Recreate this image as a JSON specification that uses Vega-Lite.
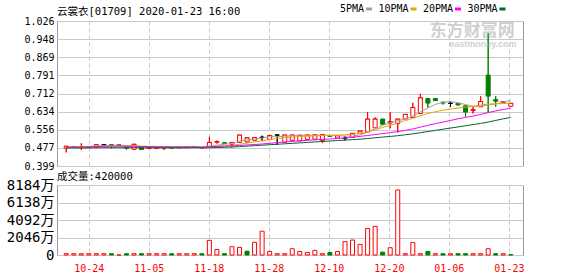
{
  "$schema": "https://vega.github.io/schema/vega-lite/v6.json",
  "padding": {"left": 0, "top": 4, "right": 0, "bottom": 0},
  "spacing": -1,
  "config": {
    "font": "DejaVu Sans Mono, Noto Sans CJK SC, sans-serif",
    "view": {"stroke": "#999999", "strokeWidth": 1},
    "axis": {"labelFont": "DejaVu Sans Mono, Noto Sans CJK SC, sans-serif", "labelFontSize": 10, "labelColor": "#000000", "gridColor": "#c8c8c8", "gridWidth": 1, "gridOpacity": 1, "ticks": false, "domain": false, "title": null, "labelOverlap": false, "labelFlush": false},
    "axisY": {"labelOverlap": false},
    "legend": {"labelFont": "DejaVu Sans Mono, Noto Sans CJK SC, sans-serif"},
    "title": {"font": "DejaVu Sans Mono, Noto Sans CJK SC, sans-serif", "fontSize": 10.5, "fontWeight": "normal", "anchor": "start", "frame": "group", "color": "#000000"}
  },
  "datasets": {
    "k": [
      {"i":0,"o":0.476,"h":0.484,"l":0.458,"c":0.484,"v":150,"vd":"up","5PMA":0.480,"10PMA":0.479,"20PMA":0.481,"30PMA":0.477},
      {"i":1,"o":0.481,"h":0.483,"l":0.481,"c":0.483,"v":150,"vd":"up","5PMA":0.481,"10PMA":0.480,"20PMA":0.481,"30PMA":0.477},
      {"i":2,"o":0.480,"h":0.497,"l":0.468,"c":0.482,"v":150,"vd":"up","5PMA":0.482,"10PMA":0.481,"20PMA":0.481,"30PMA":0.477},
      {"i":3,"o":0.480,"h":0.482,"l":0.480,"c":0.482,"v":150,"vd":"up","5PMA":0.483,"10PMA":0.482,"20PMA":0.482,"30PMA":0.477},
      {"i":4,"o":0.481,"h":0.491,"l":0.476,"c":0.491,"v":150,"vd":"up","5PMA":0.486,"10PMA":0.483,"20PMA":0.483,"30PMA":0.478},
      {"i":5,"o":0.491,"h":0.492,"l":0.491,"c":0.491,"v":150,"vd":"up","5PMA":0.487,"10PMA":0.484,"20PMA":0.484,"30PMA":0.478},
      {"i":6,"o":0.491,"h":0.491,"l":0.475,"c":0.489,"v":150,"vd":"down","5PMA":0.488,"10PMA":0.485,"20PMA":0.485,"30PMA":0.478},
      {"i":7,"o":0.489,"h":0.489,"l":0.489,"c":0.489,"v":0,"vd":"up","5PMA":0.489,"10PMA":0.485,"20PMA":0.485,"30PMA":0.478},
      {"i":8,"o":0.480,"h":0.480,"l":0.468,"c":0.477,"v":150,"vd":"down","5PMA":0.487,"10PMA":0.485,"20PMA":0.484,"30PMA":0.478},
      {"i":9,"o":0.471,"h":0.493,"l":0.471,"c":0.493,"v":150,"vd":"up","5PMA":0.486,"10PMA":0.485,"20PMA":0.484,"30PMA":0.478},
      {"i":10,"o":0.481,"h":0.481,"l":0.470,"c":0.471,"v":150,"vd":"down","5PMA":0.483,"10PMA":0.485,"20PMA":0.483,"30PMA":0.478},
      {"i":11,"o":0.475,"h":0.477,"l":0.475,"c":0.477,"v":150,"vd":"up","5PMA":0.481,"10PMA":0.484,"20PMA":0.483,"30PMA":0.478},
      {"i":12,"o":0.475,"h":0.477,"l":0.475,"c":0.477,"v":150,"vd":"up","5PMA":0.479,"10PMA":0.484,"20PMA":0.482,"30PMA":0.478},
      {"i":13,"o":0.476,"h":0.479,"l":0.468,"c":0.479,"v":150,"vd":"up","5PMA":0.479,"10PMA":0.483,"20PMA":0.482,"30PMA":0.478},
      {"i":14,"o":0.478,"h":0.478,"l":0.476,"c":0.476,"v":150,"vd":"down","5PMA":0.478,"10PMA":0.482,"20PMA":0.482,"30PMA":0.478},
      {"i":15,"o":0.477,"h":0.479,"l":0.477,"c":0.479,"v":150,"vd":"up","5PMA":0.478,"10PMA":0.481,"20PMA":0.482,"30PMA":0.478},
      {"i":16,"o":0.478,"h":0.480,"l":0.478,"c":0.480,"v":150,"vd":"up","5PMA":0.479,"10PMA":0.481,"20PMA":0.482,"30PMA":0.478},
      {"i":17,"o":0.479,"h":0.481,"l":0.479,"c":0.481,"v":150,"vd":"up","5PMA":0.480,"10PMA":0.480,"20PMA":0.482,"30PMA":0.478},
      {"i":18,"o":0.477,"h":0.479,"l":0.477,"c":0.478,"v":150,"vd":"down","5PMA":0.479,"10PMA":0.480,"20PMA":0.481,"30PMA":0.478},
      {"i":19,"o":0.484,"h":0.525,"l":0.484,"c":0.501,"v":1717,"vd":"up","5PMA":0.484,"10PMA":0.482,"20PMA":0.483,"30PMA":0.478},
      {"i":20,"o":0.502,"h":0.509,"l":0.496,"c":0.504,"v":651,"vd":"up","5PMA":0.489,"10PMA":0.484,"20PMA":0.484,"30PMA":0.479},
      {"i":21,"o":0.500,"h":0.500,"l":0.497,"c":0.498,"v":150,"vd":"down","5PMA":0.493,"10PMA":0.486,"20PMA":0.485,"30PMA":0.480},
      {"i":22,"o":0.493,"h":0.501,"l":0.480,"c":0.501,"v":971,"vd":"up","5PMA":0.497,"10PMA":0.488,"20PMA":0.486,"30PMA":0.481},
      {"i":23,"o":0.501,"h":0.533,"l":0.501,"c":0.533,"v":888,"vd":"up","5PMA":0.507,"10PMA":0.493,"20PMA":0.488,"30PMA":0.483},
      {"i":24,"o":0.503,"h":0.523,"l":0.500,"c":0.521,"v":450,"vd":"down","5PMA":0.511,"10PMA":0.498,"20PMA":0.490,"30PMA":0.485},
      {"i":25,"o":0.510,"h":0.522,"l":0.510,"c":0.522,"v":1480,"vd":"up","5PMA":0.515,"10PMA":0.503,"20PMA":0.492,"30PMA":0.487},
      {"i":26,"o":0.523,"h":0.530,"l":0.507,"c":0.523,"v":2782,"vd":"up","5PMA":0.520,"10PMA":0.508,"20PMA":0.494,"30PMA":0.489},
      {"i":27,"o":0.514,"h":0.531,"l":0.514,"c":0.531,"v":414,"vd":"up","5PMA":0.526,"10PMA":0.513,"20PMA":0.497,"30PMA":0.491},
      {"i":28,"o":0.533,"h":0.534,"l":0.490,"c":0.533,"v":150,"vd":"up","5PMA":0.526,"10PMA":0.518,"20PMA":0.500,"30PMA":0.493},
      {"i":29,"o":0.501,"h":0.533,"l":0.501,"c":0.533,"v":150,"vd":"up","5PMA":0.528,"10PMA":0.522,"20PMA":0.503,"30PMA":0.495},
      {"i":30,"o":0.510,"h":0.533,"l":0.510,"c":0.533,"v":734,"vd":"up","5PMA":0.530,"10PMA":0.524,"20PMA":0.505,"30PMA":0.497},
      {"i":31,"o":0.507,"h":0.532,"l":0.507,"c":0.532,"v":414,"vd":"up","5PMA":0.532,"10PMA":0.527,"20PMA":0.508,"30PMA":0.499},
      {"i":32,"o":0.514,"h":0.533,"l":0.514,"c":0.533,"v":296,"vd":"up","5PMA":0.532,"10PMA":0.528,"20PMA":0.510,"30PMA":0.501},
      {"i":33,"o":0.515,"h":0.534,"l":0.512,"c":0.534,"v":533,"vd":"up","5PMA":0.532,"10PMA":0.530,"20PMA":0.512,"30PMA":0.503},
      {"i":34,"o":0.509,"h":0.535,"l":0.498,"c":0.535,"v":150,"vd":"up","5PMA":0.532,"10PMA":0.531,"20PMA":0.514,"30PMA":0.505},
      {"i":35,"o":0.530,"h":0.532,"l":0.525,"c":0.528,"v":296,"vd":"down","5PMA":0.531,"10PMA":0.532,"20PMA":0.516,"30PMA":0.507},
      {"i":36,"o":0.520,"h":0.531,"l":0.520,"c":0.530,"v":414,"vd":"up","5PMA":0.530,"10PMA":0.533,"20PMA":0.518,"30PMA":0.509},
      {"i":37,"o":0.519,"h":0.528,"l":0.510,"c":0.519,"v":1563,"vd":"up","5PMA":0.528,"10PMA":0.534,"20PMA":0.520,"30PMA":0.511},
      {"i":38,"o":0.523,"h":0.540,"l":0.523,"c":0.540,"v":1752,"vd":"up","5PMA":0.528,"10PMA":0.536,"20PMA":0.523,"30PMA":0.513},
      {"i":39,"o":0.540,"h":0.550,"l":0.538,"c":0.550,"v":1243,"vd":"up","5PMA":0.533,"10PMA":0.540,"20PMA":0.527,"30PMA":0.515},
      {"i":40,"o":0.546,"h":0.632,"l":0.546,"c":0.602,"v":3102,"vd":"up","5PMA":0.546,"10PMA":0.546,"20PMA":0.531,"30PMA":0.518},
      {"i":41,"o":0.564,"h":0.609,"l":0.564,"c":0.602,"v":3339,"vd":"up","5PMA":0.560,"10PMA":0.556,"20PMA":0.535,"30PMA":0.521},
      {"i":42,"o":0.602,"h":0.602,"l":0.580,"c":0.580,"v":332,"vd":"down","5PMA":0.575,"10PMA":0.566,"20PMA":0.539,"30PMA":0.524},
      {"i":43,"o":0.585,"h":0.631,"l":0.562,"c":0.590,"v":852,"vd":"up","5PMA":0.585,"10PMA":0.575,"20PMA":0.543,"30PMA":0.527},
      {"i":44,"o":0.582,"h":0.602,"l":0.544,"c":0.602,"v":7601,"vd":"up","5PMA":0.595,"10PMA":0.585,"20PMA":0.548,"30PMA":0.530},
      {"i":45,"o":0.602,"h":0.622,"l":0.602,"c":0.622,"v":150,"vd":"up","5PMA":0.602,"10PMA":0.595,"20PMA":0.553,"30PMA":0.534},
      {"i":46,"o":0.609,"h":0.672,"l":0.609,"c":0.652,"v":1444,"vd":"up","5PMA":0.615,"10PMA":0.605,"20PMA":0.559,"30PMA":0.538},
      {"i":47,"o":0.626,"h":0.711,"l":0.626,"c":0.694,"v":150,"vd":"up","5PMA":0.632,"10PMA":0.616,"20PMA":0.567,"30PMA":0.543},
      {"i":48,"o":0.691,"h":0.691,"l":0.651,"c":0.672,"v":414,"vd":"down","5PMA":0.650,"10PMA":0.626,"20PMA":0.575,"30PMA":0.548},
      {"i":49,"o":0.691,"h":0.691,"l":0.682,"c":0.682,"v":150,"vd":"up","5PMA":0.665,"10PMA":0.634,"20PMA":0.582,"30PMA":0.553},
      {"i":50,"o":0.674,"h":0.678,"l":0.665,"c":0.672,"v":150,"vd":"down","5PMA":0.675,"10PMA":0.640,"20PMA":0.589,"30PMA":0.558},
      {"i":51,"o":0.670,"h":0.678,"l":0.655,"c":0.670,"v":150,"vd":"up","5PMA":0.678,"10PMA":0.645,"20PMA":0.596,"30PMA":0.563},
      {"i":52,"o":0.670,"h":0.672,"l":0.660,"c":0.664,"v":150,"vd":"down","5PMA":0.672,"10PMA":0.650,"20PMA":0.603,"30PMA":0.568},
      {"i":53,"o":0.659,"h":0.659,"l":0.612,"c":0.633,"v":150,"vd":"down","5PMA":0.665,"10PMA":0.653,"20PMA":0.609,"30PMA":0.573},
      {"i":54,"o":0.639,"h":0.655,"l":0.626,"c":0.642,"v":150,"vd":"up","5PMA":0.657,"10PMA":0.657,"20PMA":0.615,"30PMA":0.578},
      {"i":55,"o":0.655,"h":0.701,"l":0.655,"c":0.678,"v":150,"vd":"up","5PMA":0.658,"10PMA":0.662,"20PMA":0.622,"30PMA":0.583},
      {"i":56,"o":0.792,"h":0.973,"l":0.628,"c":0.702,"v":734,"vd":"up","5PMA":0.663,"10PMA":0.667,"20PMA":0.630,"30PMA":0.589},
      {"i":57,"o":0.686,"h":0.702,"l":0.655,"c":0.680,"v":150,"vd":"down","5PMA":0.667,"10PMA":0.668,"20PMA":0.637,"30PMA":0.596},
      {"i":58,"o":0.673,"h":0.680,"l":0.673,"c":0.678,"v":150,"vd":"up","5PMA":0.676,"10PMA":0.669,"20PMA":0.643,"30PMA":0.603},
      {"i":59,"o":0.657,"h":0.670,"l":0.657,"c":0.670,"v":42,"vd":"down","5PMA":0.682,"10PMA":0.671,"20PMA":0.649,"30PMA":0.609}
    ]
  },
  "vconcat": [
    {
      "width": 466,
      "height": 145,
      "title": {"text": "云裳衣[01709] 2020-01-23 16:00", "offset": -1},
      "data": {"name": "k"},
      "encoding": {
        "x": {"field": "i", "type": "quantitative",
          "scale": {"domain": [-0.56, 59.96], "nice": false, "zero": false},
          "axis": {"values": [2.99, 10.95, 18.92, 26.89, 34.85, 42.82, 50.78, 58.75], "labels": false, "labelPadding": 0, "grid": true, "gridDash": [4, 3], "maxExtent": 0, "minExtent": 0}},
        "y": {"field": "l", "type": "quantitative",
          "scale": {"domain": [0.399, 1.026], "nice": false, "zero": false},
          "axis": {"values": [0.399, 0.477, 0.556, 0.634, 0.712, 0.791, 0.869, 0.948, 1.026], "format": ".3f", "labelPadding": 3, "minExtent": 56, "maxExtent": 56, "grid": true, "labelOverlap": false, "labelFontSize": 10}}
      },
      "layer": [
        {
          "mark": {"type": "rule", "strokeWidth": 1},
          "encoding": {
            "y2": {"field": "h"},
            "color": {"condition": [{"test": "datum.c > datum.o", "value": "#ff0000"}, {"test": "datum.c < datum.o", "value": "#008000"}], "value": "#000000"}
          }
        },
        {
          "transform": [{"filter": "datum.i == 0"}],
          "mark": {"type": "text", "fontSize": 17, "fontWeight": "bold", "color": "#d0d0d0", "align": "center", "baseline": "middle", "font": "Noto Sans CJK SC"},
          "encoding": {"x": {"datum": 53.9}, "y": {"datum": 0.983}, "text": {"value": "东方财富网"}}
        },
        {
          "transform": [{"filter": "datum.i == 0"}],
          "mark": {"type": "text", "fontSize": 9, "fontWeight": "bold", "color": "#d0d0d0", "align": "center", "baseline": "middle", "font": "Liberation Sans"},
          "encoding": {"x": {"datum": 55.3}, "y": {"datum": 0.925}, "text": {"value": "eastmoney.com"}}
        },
        {
          "mark": {"type": "rule", "strokeWidth": 1},
          "encoding": {
            "y2": {"field": "h"},
            "color": {"condition": [{"test": "datum.c > datum.o", "value": "#ff0000"}, {"test": "datum.c < datum.o", "value": "#008000"}], "value": "#000000"}
          }
        },
        {
          "mark": {"type": "bar", "size": 4, "strokeWidth": 1},
          "encoding": {
            "y": {"field": "o", "type": "quantitative"},
            "y2": {"field": "c"},
            "fill": {"condition": [{"test": "datum.c > datum.o", "value": "#ffffff"}, {"test": "datum.c < datum.o", "value": "#008000"}], "value": "#000000"},
            "stroke": {"condition": [{"test": "datum.c > datum.o", "value": "#ff0000"}, {"test": "datum.c < datum.o", "value": "#008000"}], "value": "#000000"}
          }
        },
        {
          "mark": {"type": "tick", "orient": "horizontal", "size": 5, "thickness": 1},
          "encoding": {
            "y": {"field": "c", "type": "quantitative"},
            "color": {"condition": [{"test": "datum.c > datum.o", "value": "#ff0000"}, {"test": "datum.c < datum.o", "value": "#008000"}], "value": "#000000"}
          }
        },
        {
          "transform": [{"fold": ["5PMA", "10PMA", "20PMA", "30PMA"], "as": ["ma", "val"]}],
          "mark": {"type": "line", "strokeWidth": 1},
          "encoding": {
            "y": {"field": "val", "type": "quantitative"},
            "color": {"field": "ma", "type": "nominal",
              "scale": {"domain": ["5PMA", "10PMA", "20PMA", "30PMA"], "range": ["#a0a0a0", "#f0a000", "#ff00ff", "#006633"]},
              "legend": {"orient": "none", "legendX": 307, "legendY": -17, "direction": "horizontal", "title": null, "columns": 4, "gridAlign": "all",
                "symbolType": "M-1,0H1", "symbolSize": 36, "symbolStrokeWidth": 3,
                "labelFontSize": 10, "labelColor": "#000000", "labelAlign": "right", "labelOffset": -10, "columnPadding": -0.5, "padding": 0}}
          }
        }
      ]
    },
    {
      "width": 466,
      "height": 70,
      "title": {"text": "成交量:420000", "offset": -4},
      "data": {"name": "k"},
      "mark": {"type": "bar", "size": 4, "strokeWidth": 1},
      "encoding": {
        "x": {"field": "i", "type": "quantitative",
          "scale": {"domain": [-0.56, 59.96], "nice": false, "zero": false},
          "axis": {"values": [2.99, 10.95, 18.92, 26.89, 34.85, 42.82, 50.78, 58.75], "grid": true, "gridDash": [4, 3], "labelColor": "#ff0000", "labelPadding": 8, "labelFontSize": 10,
            "labelExpr": "datum.value < 5 ? '10-24' : datum.value < 13 ? '11-05' : datum.value < 21 ? '11-18' : datum.value < 29 ? '11-28' : datum.value < 37 ? '12-10' : datum.value < 45 ? '12-20' : datum.value < 53 ? '01-06' : '01-23'"}},
        "y": {"field": "v", "type": "quantitative",
          "scale": {"domain": [0, 8184], "nice": false},
          "axis": {"values": [0, 2046, 4092, 6138, 8184], "labelExpr": "datum.value == 0 ? '0' : datum.value + '万'", "labelPadding": 3, "labelFontSize": 14, "minExtent": 56, "maxExtent": 56, "grid": true, "labelOverlap": false}},
        "fill": {"condition": {"test": "datum.vd == 'up'", "value": "#ffffff"}, "value": "#008000"},
        "stroke": {"condition": {"test": "datum.vd == 'up'", "value": "#ff0000"}, "value": "#008000"}
      }
    }
  ]
}
